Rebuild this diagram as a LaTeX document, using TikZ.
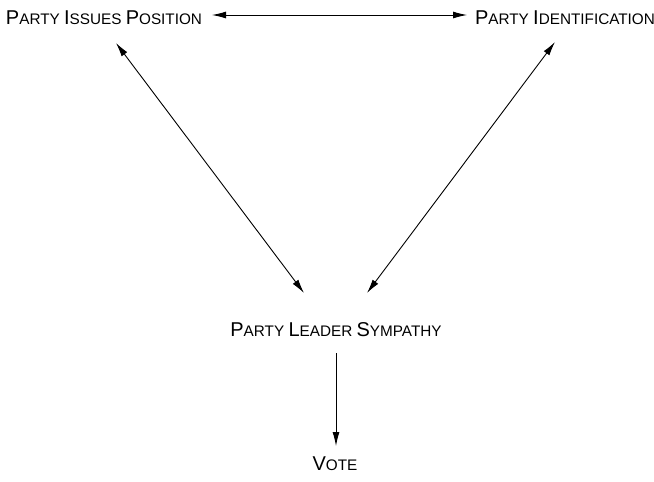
\documentclass[tikz,border=0pt]{standalone}
\usepackage{fontspec}
\setmainfont{Liberation Sans}
\usetikzlibrary{arrows.meta,calc}
% hand-made small capitals: full-size initial, reduced capitals after it
\newcommand\capL[1]{{\fontsize{20pt}{22pt}\selectfont #1}}
\newcommand\smL[1]{{\fontsize{15.3pt}{18pt}\selectfont #1}}
\begin{document}
\begin{tikzpicture}[x=1pt,y=-1pt,
  lbl/.style={inner sep=0pt, anchor=base, font=\fontsize{15.3pt}{18pt}\selectfont},
  tip/.style={Latex[length=14pt,width=7pt]},
  link/.style={line width=0.9pt, {Latex[length=14pt,width=7pt]}-{Latex[length=14pt,width=7pt]}},
  onelink/.style={line width=0.9pt, -{Latex[length=14pt,width=7pt]}}]
\useasboundingbox (0,0) rectangle (654,482);

\node[lbl] (pip) at (104,24.5) {\capL{P}\smL{ARTY} \capL{I}\smL{SSUES} \capL{P}\smL{OSITION}};
\node[lbl] (pi) at (565,24.5) {\capL{P}\smL{ARTY} \capL{I}\smL{DENTIFICATION}};
\node[lbl] (pls) at (336,336) {\capL{P}\smL{ARTY} \capL{L}\smL{EADER} \capL{S}\smL{YMPATHY}};
\node[lbl] (vote) at (335,470) {\capL{V}\smL{OTE}};

\draw[link] ($(pip.base)+(108,-9.5)$) -- ($(pi.base)+(-98,-9.5)$);
\draw[link] ($(pip.base)+(12,18.5)$) -- ($(pls.base)+(-32,-43)$);
\draw[link] ($(pi.base)+(-10,17.5)$) -- ($(pls.base)+(31,-43)$);
\draw[onelink] ($(pls.base)+(0,17)$) -- ($(vote.base)+(1,-24)$);
\end{tikzpicture}
\end{document}
